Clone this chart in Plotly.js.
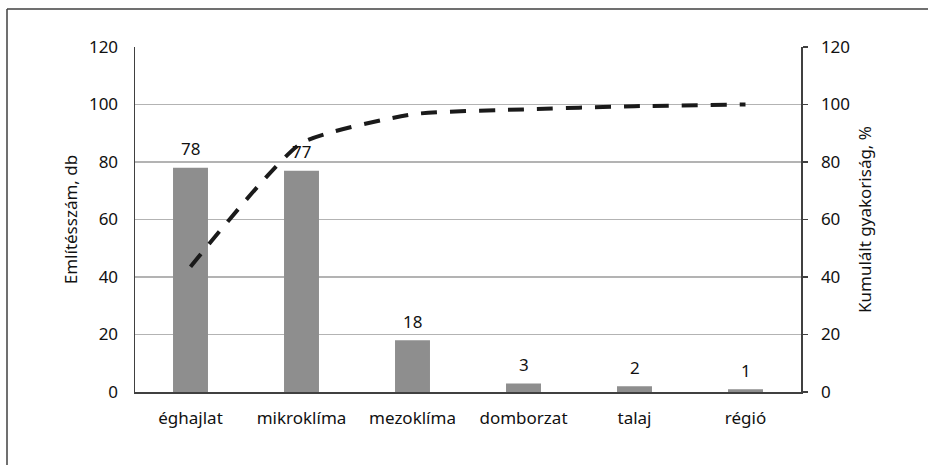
<!DOCTYPE html>
<html>
<head>
<meta charset="utf-8">
<script src="https://cdn.plot.ly/plotly-3.0.1.min.js"></script>
<style>html,body{margin:0;padding:0;background:#fff;}#chart{width:928px;height:465px;}</style>
</head>
<body>
<div id="chart"></div>
<script>
const categories = ["éghajlat", "mikroklíma", "mezoklíma", "domborzat", "talaj", "régió"];
const mentions = [78, 77, 18, 3, 2, 1];
const cumulative = [43.6, 86.6, 96.6, 98.3, 99.4, 100];
const tickVals = [0, 20, 40, 60, 80, 100, 120];

const FONT = "Noto Sans, Open Sans, sans-serif";
const FS = 17;

const bars = {
  type: "bar", x: categories, y: mentions, yaxis: "y",
  marker: {color: "#8e8e8e"}, hoverinfo: "skip", showlegend: false
};
const line = {
  type: "scatter", mode: "lines", x: categories, y: cumulative, yaxis: "y2",
  line: {color: "#1a1a1a", width: 4, dash: "16px,13px", shape: "spline", smoothing: 0.5},
  hoverinfo: "skip", showlegend: false
};

const annotations = categories.map((c, i) => ({
  x: c, y: mentions[i], xref: "x", yref: "y", text: String(mentions[i]),
  showarrow: false, yshift: 19, font: {family: FONT, size: FS, color: "#111"}
}));

const layout = {
  width: 928, height: 465,
  margin: {l: 135, r: 127, t: 47, b: 73},
  paper_bgcolor: "#fff", plot_bgcolor: "#fff",
  bargap: 0.685,
  font: {family: FONT, size: FS, color: "#111"},
  xaxis: {
    showline: true, linecolor: "#404040", linewidth: 1.5, ticks: "",
    tickfont: {family: FONT, size: FS, color: "#111"}, ticklabelstandoff: 10,
    showgrid: false, zeroline: false, fixedrange: true
  },
  yaxis: {
    range: [0, 120], tickvals: tickVals, showline: true, linecolor: "#404040", linewidth: 1.5,
    ticks: "", ticklabelstandoff: 12, showgrid: true, gridcolor: "#b3b3b3", gridwidth: 1.5,
    zeroline: false, tickfont: {family: FONT, size: FS, color: "#111"},
    title: {text: "Említésszám, db", font: {family: FONT, size: FS, color: "#111"}, standoff: 7}
  },
  yaxis2: {
    range: [0, 120], tickvals: tickVals, overlaying: "y", side: "right",
    showline: true, linecolor: "#404040", linewidth: 1.5, ticks: "outside", ticklen: 5,
    tickcolor: "#404040", tickwidth: 1.5, ticklabelstandoff: 10, showgrid: false, zeroline: false,
    tickfont: {family: FONT, size: FS, color: "#111"},
    title: {text: "Kumulált gyakoriság, %", font: {family: FONT, size: FS, color: "#111"}, standoff: 10}
  },
  annotations: annotations,
  shapes: [
    {type: "line", xref: "paper", yref: "paper", x0: (7-135)/666, x1: (7-135)/666, y0: (392-9)/345, y1: (392-470)/345, line: {color: "#404040", width: 1.5}},
    {type: "line", xref: "paper", yref: "paper", x0: (7-135)/666, x1: (935-135)/666, y0: (392-9)/345, y1: (392-9)/345, line: {color: "#404040", width: 1.5}}
  ]
};

Plotly.newPlot("chart", [bars, line], layout, {staticPlot: true, displayModeBar: false});
</script>
</body>
</html>
